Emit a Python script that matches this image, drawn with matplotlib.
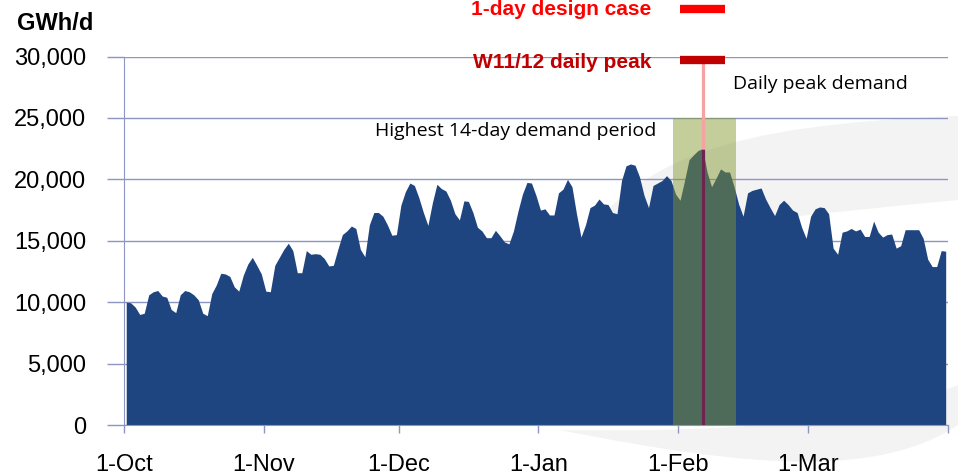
import numpy as np
import matplotlib.pyplot as plt
from matplotlib.path import Path
from matplotlib.patches import PathPatch
from matplotlib.ticker import FuncFormatter

# daily gas demand, 1-Oct-2011 .. 31-Mar-2012, thousand GWh/d
demand_k = [
    10.0, 9.95, 9.6, 9.0, 9.1, 10.6, 10.85, 10.95, 10.5, 10.4,
    9.4, 9.15, 10.6, 10.95, 10.85, 10.6, 10.2, 9.1, 8.9, 10.7,
    11.4, 12.35, 12.3, 12.1, 11.25, 10.9, 12.2, 13.1, 13.65, 13.0,
    12.3, 10.9, 10.85, 13.0, 13.65, 14.3, 14.8, 14.2, 12.4, 12.4,
    14.2, 13.9, 13.95, 13.9, 13.55, 12.95, 13.0, 14.3, 15.5, 15.8,
    16.2, 16.0, 14.3, 13.7, 16.3, 17.3, 17.3, 17.0, 16.3, 15.45,
    15.5, 17.9, 19.0, 19.7, 19.5, 18.5, 17.3, 16.25, 18.1, 19.6,
    19.25, 19.05, 18.3, 17.2, 16.7, 18.25, 18.2, 17.3, 16.1, 15.8,
    15.25, 15.25, 15.85, 15.4, 14.9, 14.75, 15.8, 17.4, 18.8, 19.75,
    19.7, 18.7, 17.5, 17.6, 17.1, 17.1, 18.9, 19.2, 20.0, 19.4,
    17.2, 15.3, 16.3, 17.7, 17.9, 18.4, 18.0, 17.95, 17.3, 17.2,
    19.9, 21.1, 21.25, 21.15, 20.2, 18.7, 17.7, 19.5, 19.7, 19.9,
    20.3, 19.9, 18.8, 18.3, 19.9, 21.6, 22.0, 22.35, 22.5, 20.6,
    19.4, 20.1, 20.85, 20.6, 20.6, 19.4, 18.0, 17.0, 18.9, 19.1,
    19.2, 19.3, 18.4, 17.7, 17.05, 17.95, 18.3, 17.95, 17.5, 17.3,
    16.1, 15.2, 17.0, 17.6, 17.75, 17.7, 17.2, 14.4, 13.9, 15.7,
    15.8, 16.0, 15.8, 15.95, 15.35, 15.35, 16.6, 15.7, 15.3, 15.5,
    15.55, 14.4, 14.6, 15.9, 15.9, 15.9, 15.9, 15.2, 13.5, 12.9,
    12.9, 14.2, 14.15,
]
month_labels = ['1-Oct', '1-Nov', '1-Dec', '1-Jan', '1-Feb', '1-Mar']
month_start = [0, 31, 61, 92, 123, 152]
y_ticks = [0, 5000, 10000, 15000, 20000, 25000, 30000]

period_start = 122      # first day of highest 14-day demand period
period_len = 14
period_top = 25000
w1112_peak = 29700      # W11/12 daily peak marker
design_case = 33900     # 1-day design case marker (sits above the plot)

demand = np.array(demand_k) * 1000
days = np.arange(len(demand))
peak_day = int(np.argmax(demand))

plt.rcParams['font.family'] = ['Liberation Sans', 'DejaVu Sans']
grid_c = '#8D96C2'
W, H = 958, 476

fig = plt.figure(figsize=(9.58, 4.76), dpi=100)


# faint logo watermark behind the chart (pixel coords, y from top)
def swoosh(pts, codes):
    verts = [(x / W, 1 - y / H) for x, y in pts]
    p = PathPatch(Path(verts, codes), transform=fig.transFigure,
                  fc='#F3F3F3', ec='none', zorder=-5)
    fig.patches.append(p)


C4 = Path.CURVE4
swoosh([(572, 250), (640, 160), (720, 125), (958, 116), (958, 200),
        (800, 215), (660, 230), (572, 250), (572, 250)],
       [Path.MOVETO, C4, C4, C4, Path.LINETO, C4, C4, C4, Path.CLOSEPOLY])
swoosh([(560, 430), (720, 432), (860, 425), (958, 385), (958, 425),
        (880, 476), (760, 470), (560, 430), (560, 430)],
       [Path.MOVETO, C4, C4, C4, Path.LINETO, C4, C4, C4, Path.CLOSEPOLY])

ax = fig.add_axes([0.1294, 0.1071, 0.8601, 0.7742])
ax.set_facecolor('none')

ax.fill_between(days, demand, color='#1F4580', lw=0, zorder=2)
ax.fill_between([period_start - 0.5, period_start + period_len - 0.5], 0, period_top,
                color='#82972C', alpha=0.47, lw=0, zorder=3)
ax.vlines(peak_day, 0, demand[peak_day], color='#6E2452', lw=2.3, zorder=4)
ax.vlines(peak_day, demand[peak_day], w1112_peak, color='#F6A2A2', lw=2.3, zorder=4,
          clip_on=False)
ax.hlines(w1112_peak, peak_day - 5, peak_day + 5, color='#C00000', lw=6, zorder=5,
          clip_on=False)
ax.hlines(design_case, peak_day - 5, peak_day + 5, color='#FF0000', lw=6, zorder=5,
          clip_on=False)

ax.text(peak_day - 11.3, w1112_peak - 200, 'W11/12 daily peak', color='#C00000',
        fontsize=15, fontweight='bold', ha='right', va='center', clip_on=False)
ax.text(peak_day - 11.3, design_case - 100, '1-day design case', color='#FF0000',
        fontsize=15, fontweight='bold', ha='right', va='center', clip_on=False)
ax.text(134.7, 27800, 'Daily peak demand', fontsize=14, family='Open Sans',
        ha='left', va='center')
ax.text(117.8, 23900, 'Highest 14-day demand period', fontsize=14, family='Open Sans',
        ha='right', va='center')

fig.text(17 / W, 1 - 23 / H, 'GWh/d', fontsize=17, fontweight='bold',
         ha='left', va='center')

ax.set_xlim(-0.5, len(demand) - 0.5)
ax.set_ylim(0, 30000)
ax.set_xticks([m - 0.5 for m in month_start] + [len(demand) - 0.5])
ax.set_xticklabels(month_labels + [''])
ax.set_yticks(y_ticks)
ax.yaxis.set_major_formatter(FuncFormatter(lambda v, p: f'{int(v):,}'))
ax.tick_params(axis='y', length=12, width=1, color=grid_c, pad=15, labelsize=17)
ax.tick_params(axis='x', length=6, width=1, color=grid_c, pad=15, labelsize=17)
ax.grid(axis='y', color=grid_c, lw=1)
ax.set_axisbelow(True)
for s in ['top', 'right']:
    ax.spines[s].set_visible(False)
for s in ['left', 'bottom']:
    ax.spines[s].set_color(grid_c)

fig.savefig('out.png', dpi=100)
